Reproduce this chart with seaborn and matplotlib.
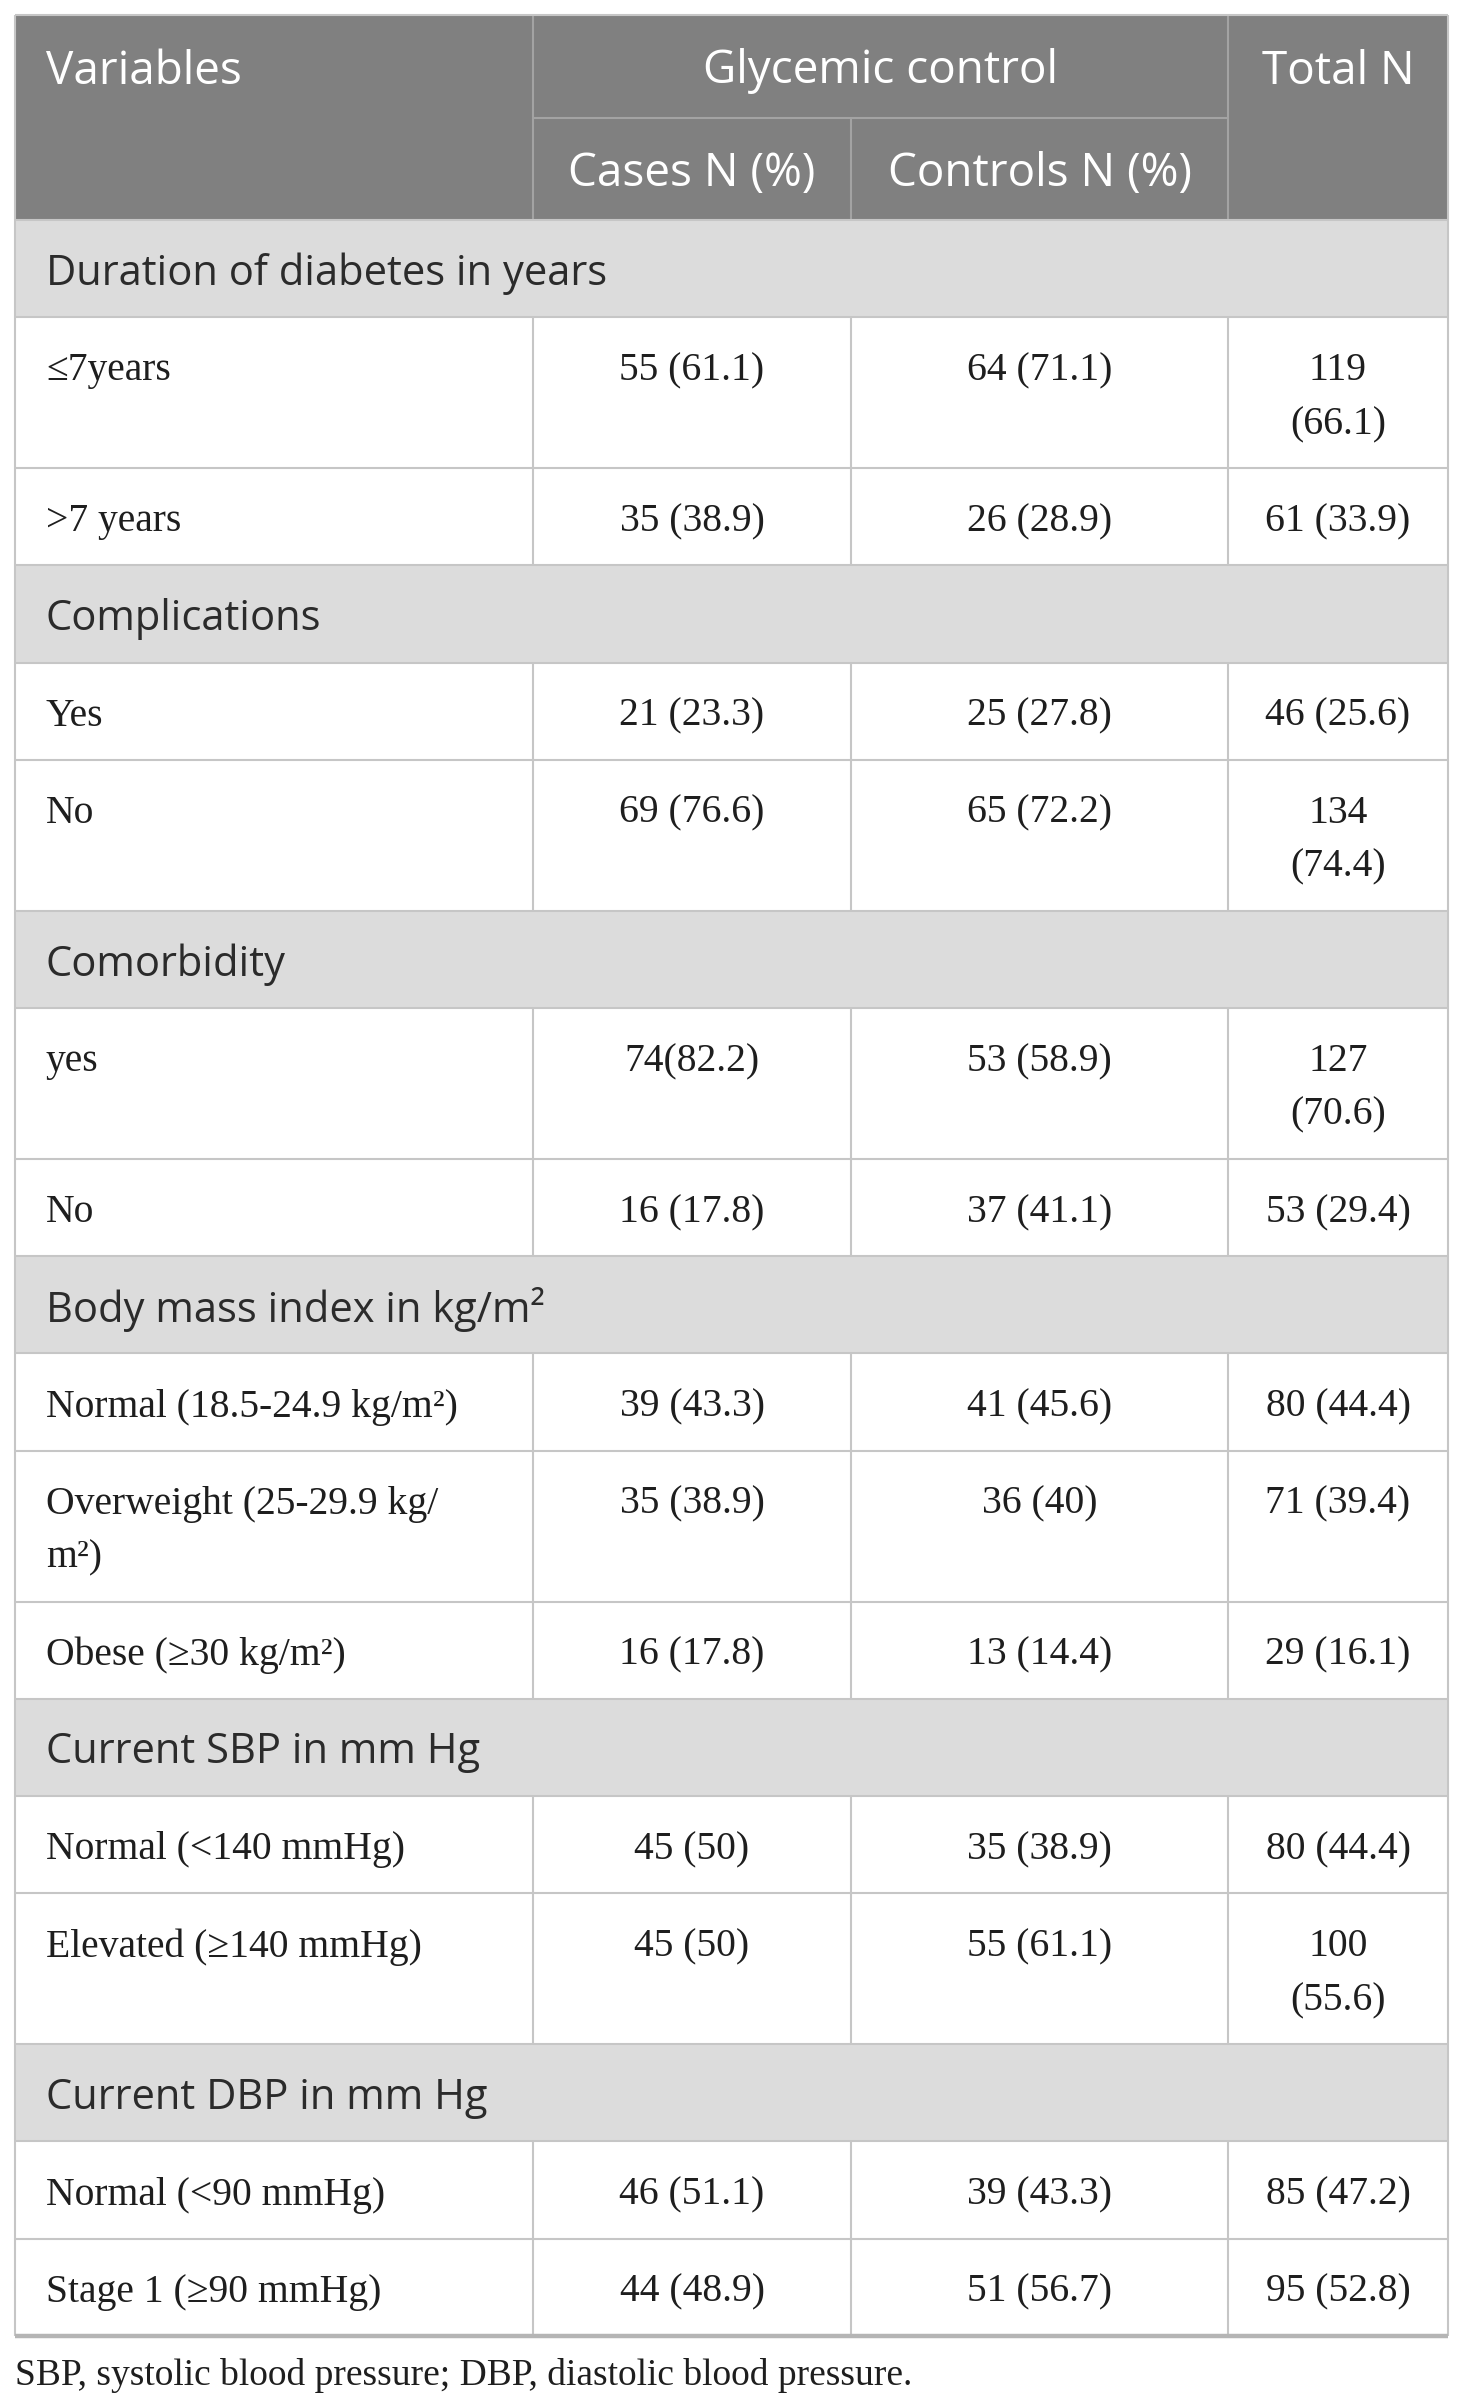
import matplotlib.pyplot as plt
import seaborn as sns

# table content
group_titles = ["Duration of diabetes in years", "Complications", "Comorbidity",
                "Body mass index in kg/m²", "Current SBP in mm Hg", "Current DBP in mm Hg"]
row_labels = [
    ["≤7years", ">7 years"],
    ["Yes", "No"],
    ["yes", "No"],
    ["Normal (18.5-24.9 kg/m²)", "Overweight (25-29.9 kg/\nm²)", "Obese (≥30 kg/m²)"],
    ["Normal (<140 mmHg)", "Elevated (≥140 mmHg)"],
    ["Normal (<90 mmHg)", "Stage 1 (≥90 mmHg)"],
]
cases = ["55 (61.1)", "35 (38.9)", "21 (23.3)", "69 (76.6)", "74(82.2)", "16 (17.8)",
         "39 (43.3)", "35 (38.9)", "16 (17.8)", "45 (50)", "45 (50)", "46 (51.1)", "44 (48.9)"]
controls = ["64 (71.1)", "26 (28.9)", "25 (27.8)", "65 (72.2)", "53 (58.9)", "37 (41.1)",
            "41 (45.6)", "36 (40)", "13 (14.4)", "35 (38.9)", "55 (61.1)", "39 (43.3)", "51 (56.7)"]
totals = ["119\n(66.1)", "61 (33.9)", "46 (25.6)", "134\n(74.4)", "127\n(70.6)", "53 (29.4)",
          "80 (44.4)", "71 (39.4)", "29 (16.1)", "80 (44.4)", "100\n(55.6)", "85 (47.2)", "95 (52.8)"]
header_top = ["Variables", "Glycemic control", "Total N"]
header_sub = ["Cases N (%)", "Controls N (%)"]
footnote = "SBP, systolic blood pressure; DBP, diastolic blood pressure."

sns.set_theme(style="white")
sans = ["Open Sans", "DejaVu Sans"]
serif = ["Liberation Serif", "DejaVu Serif"]

W, H = 1460, 2404
fig = plt.figure(figsize=(W / 100, H / 100), dpi=100)
ax = fig.add_axes([0, 0, 1, 1])
ax.set_xlim(0, W)
ax.set_ylim(H, 0)
ax.axis("off")

cols = [15, 533, 851, 1228, 1448]
left, right = cols[0], cols[-1]
pad_x = 31
line_h = 53.8
row_pad = 43.4
dy = 5  # nudge text down a bit
hdr_bg = "#808080"
hdr_line = "#a3a3a3"
grp_bg = "#dcdcdc"
grid = "#c6c6c6"
body_col = "#1e1e1e"
lw = 1.5


def rect(y0, y1, color):
    ax.fill_between([left, right], y0, y1, color=color, lw=0, zorder=0)


# header
top, mid, hbot = 15, 118, 220
rect(top, hbot, hdr_bg)
ax.hlines(mid, cols[1], cols[3], color=hdr_line, lw=lw)
ax.vlines([cols[1], cols[3]], top, hbot, color=hdr_line, lw=lw)
ax.vlines(cols[2], mid, hbot, color=hdr_line, lw=lw)
hy = (top + mid) / 2 + dy
sy = (mid + hbot) / 2 + dy
ax.text(left + pad_x, hy, header_top[0], color="white", fontsize=33, family=sans, va="center")
ax.text((cols[1] + cols[3]) / 2, hy, header_top[1], color="white", fontsize=33, family=sans,
        va="center", ha="center")
ax.text((cols[3] + cols[4]) / 2, hy, header_top[2], color="white", fontsize=33, family=sans,
        va="center", ha="center")
for i, t in enumerate(header_sub):
    ax.text((cols[i + 1] + cols[i + 2]) / 2, sy, t, color="white", fontsize=33, family=sans,
            va="center", ha="center")

# body
y = hbot
k = 0
for g, title in enumerate(group_titles):
    gh = row_pad + line_h
    rect(y, y + gh, grp_bg)
    ax.text(left + pad_x, y + gh / 2 + dy, title, color="#2b2b2b", fontsize=30, family=sans,
            va="center")
    ax.hlines(y, left, right, color=grid, lw=lw)
    y += gh
    for lab in row_labels[g]:
        cells = [lab, cases[k], controls[k], totals[k]]
        n = max(c.count("\n") + 1 for c in cells)
        rh = row_pad + n * line_h
        ax.hlines(y, left, right, color=grid, lw=lw)
        ax.vlines(cols[1:4], y, y + rh, color=grid, lw=lw)
        for c, txt in enumerate(cells):
            for j, part in enumerate(txt.split("\n")):
                ty = y + row_pad / 2 + line_h / 2 + j * line_h + dy
                if c == 0:
                    ax.text(left + pad_x, ty, part, color=body_col, fontsize=28.5, family=serif,
                            va="center")
                else:
                    ax.text((cols[c] + cols[c + 1]) / 2, ty, part, color=body_col, fontsize=28.5,
                            family=serif, va="center", ha="center")
        y += rh
        k += 1

# outer border
ax.vlines([left, right], top, y, color=grid, lw=lw)
ax.hlines(top, left, right, color=grid, lw=lw)
ax.hlines(y, left, right, color="#b5b5b5", lw=3.2)

ax.text(left, y + 40, footnote, color=body_col, fontsize=27, family=serif, va="center")

fig.savefig("out.png", dpi=100)
